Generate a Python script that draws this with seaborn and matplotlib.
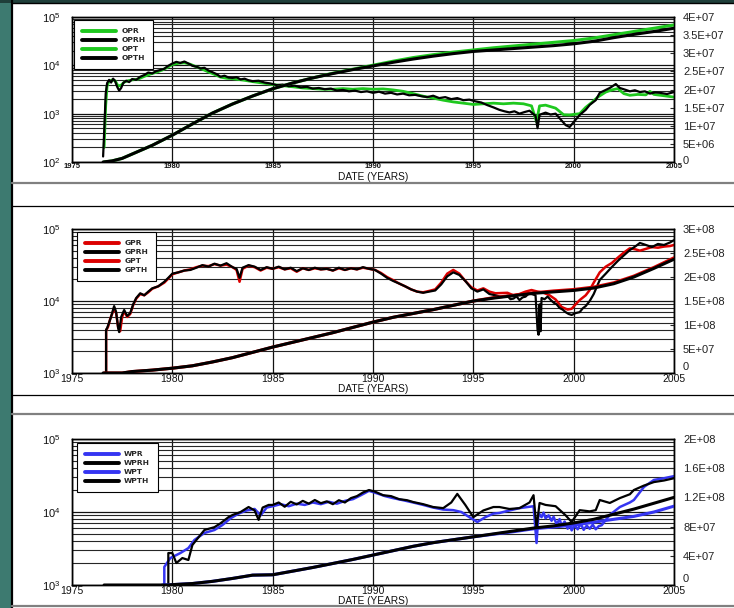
import numpy as np
import pandas as pd
import matplotlib
matplotlib.use("Agg")
import matplotlib.pyplot as plt
import matplotlib.ticker as mticker
from matplotlib.patches import Rectangle
from matplotlib.lines import Line2D
import seaborn as sns

# ---------------- data: (decimal year, value) ----------------
# Oil: rate (left, log) and cumulative (right, linear)
OPR = [(1976.6, 200), (1976.68, 1500), (1976.75, 3800), (1976.85, 4700), (1977.0, 5000),
       (1977.15, 4800), (1977.3, 3700), (1977.45, 3900), (1977.6, 4500), (1977.8, 4800),
       (1978.0, 5000), (1978.3, 5200), (1978.6, 5900), (1978.9, 6600), (1979.2, 7200),
       (1979.5, 8000), (1979.8, 9300), (1980.0, 10400), (1980.3, 11000), (1980.6, 11300),
       (1980.9, 10500), (1981.2, 9300), (1981.5, 8300), (1981.8, 7300), (1982.1, 6500),
       (1982.4, 5700), (1982.7, 5400), (1983.0, 5300), (1983.3, 5100), (1983.6, 4900),
       (1984.0, 4600), (1984.5, 4300), (1985.0, 4000), (1985.5, 3800), (1986.0, 3600),
       (1986.5, 3400), (1987.0, 3300), (1987.5, 3200), (1988.0, 3200), (1988.5, 3300),
       (1989.0, 3200), (1989.5, 3300), (1990.0, 3200), (1990.5, 3250), (1991.0, 3100),
       (1991.5, 2900), (1992.0, 2600), (1992.5, 2300), (1993.0, 2100), (1993.5, 1900),
       (1994.0, 1750), (1994.5, 1650), (1995.0, 1550), (1995.5, 1600), (1996.0, 1650),
       (1996.5, 1600), (1997.0, 1650), (1997.5, 1600), (1997.9, 1450), (1998.15, 680),
       (1998.3, 1450), (1998.6, 1500), (1999.1, 1300), (1999.5, 950), (1999.8, 940),
       (2000.3, 1000), (2000.6, 1350), (2000.9, 1700), (2001.2, 2200), (2001.6, 2800),
       (2001.9, 3100), (2002.2, 3300), (2002.5, 2600), (2002.8, 2400), (2003.2, 2500),
       (2003.6, 2450), (2003.8, 2900), (2004.0, 2500), (2004.5, 2350), (2005.0, 2200)]
OPRH = [(1976.55, 130), (1976.62, 600), (1976.68, 2600), (1976.75, 4300), (1976.85, 5000),
        (1976.95, 4400), (1977.05, 5300), (1977.15, 4700), (1977.25, 3600), (1977.35, 3000),
        (1977.45, 3400), (1977.55, 4300), (1977.7, 4800), (1977.85, 4500), (1978.0, 5200),
        (1978.2, 5000), (1978.4, 5800), (1978.6, 6300), (1978.8, 7100), (1979.0, 6800),
        (1979.2, 7600), (1979.4, 8000), (1979.6, 8500), (1979.8, 9800), (1980.0, 10900),
        (1980.2, 11800), (1980.4, 11200), (1980.6, 12000), (1980.8, 10900), (1981.0, 9800),
        (1981.2, 9400), (1981.4, 8600), (1981.6, 8900), (1981.8, 7800), (1982.0, 7200),
        (1982.2, 6600), (1982.4, 5800), (1982.6, 6100), (1982.8, 5600), (1983.0, 5500),
        (1983.2, 5700), (1983.4, 5100), (1983.6, 5300), (1983.8, 4900), (1984.0, 4700),
        (1984.3, 4800), (1984.6, 4400), (1984.9, 4200), (1985.2, 3900), (1985.5, 4000),
        (1985.8, 3700), (1986.1, 3800), (1986.4, 3500), (1986.7, 3600), (1987.0, 3300),
        (1987.3, 3400), (1987.6, 3200), (1987.9, 3300), (1988.2, 3000), (1988.5, 3100),
        (1988.8, 2900), (1989.1, 3000), (1989.4, 2800), (1989.7, 2900), (1990.0, 2700),
        (1990.3, 2850), (1990.6, 2600), (1990.9, 2700), (1991.2, 2500), (1991.5, 2600),
        (1991.8, 2400), (1992.1, 2450), (1992.4, 2300), (1992.7, 2200), (1993.0, 2350),
        (1993.3, 2100), (1993.6, 2200), (1993.9, 2000), (1994.2, 2100), (1994.5, 1900),
        (1994.8, 1950), (1995.1, 1800), (1995.4, 1700), (1995.7, 1500), (1996.0, 1350),
        (1996.3, 1200), (1996.55, 1120), (1996.8, 1060), (1997.05, 1120), (1997.3, 1000),
        (1997.55, 1080), (1997.8, 1150), (1998.1, 900), (1998.2, 500), (1998.3, 950),
        (1998.6, 1050), (1998.85, 960), (1999.1, 1000), (1999.35, 760), (1999.6, 580),
        (1999.8, 530), (2000.1, 750), (2000.3, 940), (2000.6, 1200), (2000.8, 1520),
        (2001.1, 1900), (2001.3, 2700), (2001.6, 3100), (2001.8, 3400), (2002.1, 4100),
        (2002.3, 3400), (2002.6, 3100), (2002.8, 2900), (2003.05, 3050), (2003.3, 2800),
        (2003.55, 2900), (2003.8, 2600), (2004.05, 2750), (2004.3, 2700), (2004.65, 2550),
        (2005.0, 2800)]
OPT = [(1976.6, 0), (1977.0, 0.3e6), (1977.5, 1.0e6), (1978.0, 2.2e6), (1979.0, 4.6e6),
       (1980.0, 7.4e6), (1981.0, 10.5e6), (1982.0, 13.5e6), (1983.0, 16.0e6), (1984.0, 18.2e6),
       (1985.0, 20.2e6), (1986.0, 21.8e6), (1987.0, 23.2e6), (1988.0, 24.5e6), (1989.0, 25.6e6),
       (1990.0, 26.7e6), (1991.0, 27.8e6), (1992.0, 28.8e6), (1993.0, 29.6e6), (1994.0, 30.3e6),
       (1995.0, 30.9e6), (1996.0, 31.5e6), (1997.0, 32.0e6), (1998.0, 32.5e6), (1999.0, 33.0e6),
       (2000.0, 33.5e6), (2001.0, 34.2e6), (2002.0, 35.1e6), (2003.0, 36.0e6), (2004.0, 36.9e6),
       (2005.0, 37.8e6)]
OPTH = [(1976.55, 0), (1977.0, 0.3e6), (1977.5, 1.0e6), (1978.0, 2.2e6), (1979.0, 4.6e6),
        (1980.0, 7.4e6), (1981.0, 10.5e6), (1982.0, 13.5e6), (1983.0, 16.0e6), (1984.0, 18.2e6),
        (1985.0, 20.2e6), (1986.0, 21.8e6), (1987.0, 23.2e6), (1988.0, 24.4e6), (1989.0, 25.5e6),
        (1990.0, 26.5e6), (1991.0, 27.5e6), (1992.0, 28.4e6), (1993.0, 29.2e6), (1994.0, 29.9e6),
        (1995.0, 30.5e6), (1996.0, 30.9e6), (1997.0, 31.3e6), (1998.0, 31.7e6), (1999.0, 32.1e6),
        (2000.0, 32.6e6), (2001.0, 33.3e6), (2002.0, 34.3e6), (2003.0, 35.2e6), (2004.0, 36.0e6),
        (2005.0, 36.9e6)]

# Gas
GPR = [(1976.68, 0), (1976.7, 3900), (1976.8, 4400), (1976.9, 5600), (1977.0, 6600),
       (1977.1, 8000), (1977.2, 6800), (1977.3, 4300), (1977.4, 3800), (1977.5, 6000),
       (1977.6, 7200), (1977.75, 6000), (1977.9, 6600), (1978.05, 8800), (1978.2, 10800),
       (1978.4, 12500), (1978.6, 12000), (1978.8, 13200), (1979.0, 14800), (1979.3, 16000),
       (1979.6, 18000), (1979.8, 20500), (1980.0, 23500), (1980.3, 25000), (1980.6, 26500),
       (1980.9, 27500), (1981.2, 29500), (1981.5, 31000), (1981.8, 30500), (1982.1, 32500),
       (1982.4, 31000), (1982.7, 32000), (1983.0, 29500), (1983.2, 27000), (1983.35, 18500),
       (1983.5, 28000), (1983.8, 31000), (1984.1, 29500), (1984.4, 26500), (1984.7, 29000),
       (1985.0, 28000), (1985.3, 29500), (1985.6, 27500), (1985.9, 28500), (1986.2, 25500),
       (1986.5, 28500), (1986.8, 27000), (1987.1, 28500), (1987.4, 27500), (1987.7, 28000),
       (1988.0, 26500), (1988.3, 28500), (1988.6, 27000), (1988.9, 28500), (1989.2, 27500),
       (1989.5, 29000), (1989.8, 28000), (1990.1, 27000), (1990.4, 24500), (1990.7, 21500),
       (1991.0, 19500), (1991.3, 17500), (1991.6, 16000), (1991.9, 14500), (1992.2, 13500),
       (1992.5, 13200), (1992.8, 13800), (1993.1, 14500), (1993.4, 18000), (1993.7, 24000),
       (1994.0, 27000), (1994.3, 24000), (1994.6, 19000), (1994.9, 15500), (1995.2, 14000),
       (1995.5, 15000), (1995.8, 13500), (1996.1, 12800), (1996.4, 12900), (1996.7, 13000),
       (1997.0, 12000), (1997.3, 12500), (1997.6, 13500), (1997.9, 14200), (1998.2, 13500),
       (1998.5, 13000), (1998.8, 12000), (1999.1, 10500), (1999.4, 8250), (1999.7, 7600),
       (1999.9, 7800), (2000.1, 9000), (2000.3, 10300), (2000.6, 12000), (2000.8, 14200),
       (2001.0, 18000), (2001.3, 25000), (2001.6, 30000), (2001.9, 33700), (2002.2, 40000),
       (2002.5, 47000), (2002.8, 54000), (2003.1, 52000), (2003.3, 50000), (2003.6, 53000),
       (2003.9, 56000), (2004.2, 55000), (2004.5, 57000), (2004.8, 58000), (2005.0, 60000)]
GPRH = [(1976.68, 0), (1976.7, 4000), (1976.75, 4200), (1976.9, 5500), (1977.0, 6800),
        (1977.1, 8500), (1977.2, 7000), (1977.3, 4200), (1977.35, 3700), (1977.45, 6000),
        (1977.6, 7500), (1977.75, 6200), (1977.9, 6800), (1978.05, 9000), (1978.2, 11000),
        (1978.4, 12800), (1978.6, 12000), (1978.8, 13500), (1979.0, 15000), (1979.3, 16000),
        (1979.6, 18500), (1979.8, 21000), (1980.0, 24000), (1980.3, 25000), (1980.6, 26500),
        (1980.9, 27000), (1981.2, 29000), (1981.5, 31500), (1981.8, 30000), (1982.1, 33000),
        (1982.4, 31000), (1982.7, 33500), (1983.0, 29500), (1983.2, 28000), (1983.35, 21000),
        (1983.5, 29000), (1983.8, 31500), (1984.1, 30000), (1984.4, 27000), (1984.7, 29500),
        (1985.0, 28000), (1985.3, 30000), (1985.6, 27500), (1985.9, 29000), (1986.2, 26000),
        (1986.5, 28500), (1986.8, 27000), (1987.1, 29000), (1987.4, 27500), (1987.7, 28000),
        (1988.0, 26500), (1988.3, 29000), (1988.6, 27000), (1988.9, 28500), (1989.2, 27500),
        (1989.5, 29500), (1989.8, 28000), (1990.1, 27000), (1990.4, 24000), (1990.7, 21000),
        (1991.0, 19000), (1991.3, 17500), (1991.6, 16000), (1991.9, 14500), (1992.2, 13500),
        (1992.5, 13000), (1992.8, 13500), (1993.1, 14000), (1993.4, 17000), (1993.7, 22000),
        (1994.0, 25000), (1994.3, 23000), (1994.6, 19000), (1994.9, 15000), (1995.2, 13500),
        (1995.5, 14500), (1995.8, 12500), (1996.1, 12000), (1996.4, 11400), (1996.7, 11800),
        (1996.85, 10600), (1997.0, 10800), (1997.15, 11600), (1997.3, 10300), (1997.45, 11200),
        (1997.6, 11500), (1997.75, 12600), (1997.9, 12500), (1998.1, 12000), (1998.2, 4000),
        (1998.25, 3400), (1998.3, 9000), (1998.35, 3800), (1998.4, 11000), (1998.55, 10600),
        (1998.7, 11500), (1998.85, 10400), (1999.0, 9500), (1999.15, 9000), (1999.3, 8000),
        (1999.45, 7600), (1999.6, 7000), (1999.75, 6600), (1999.9, 6400), (2000.1, 6800),
        (2000.3, 7000), (2000.45, 7900), (2000.6, 8500), (2000.8, 10000), (2001.0, 12500),
        (2001.3, 19600), (2001.6, 24000), (2001.9, 29600), (2002.2, 36000), (2002.5, 43000),
        (2002.8, 51000), (2003.1, 58000), (2003.3, 64000), (2003.6, 60000), (2003.9, 56000),
        (2004.2, 62000), (2004.5, 60000), (2004.8, 65000), (2005.0, 70000)]
GPT = [(1976.6, 0), (1977.5, 0), (1978.0, 0.3e7), (1979.0, 0.6e7), (1980.0, 1.0e7),
       (1981.0, 1.5e7), (1982.0, 2.3e7), (1983.0, 3.2e7), (1984.0, 4.3e7), (1985.0, 5.4e7),
       (1986.0, 6.4e7), (1987.0, 7.4e7), (1988.0, 8.4e7), (1989.0, 9.5e7), (1990.0, 10.6e7),
       (1991.0, 11.6e7), (1992.0, 12.4e7), (1993.0, 13.2e7), (1994.0, 14.1e7), (1995.0, 15.0e7),
       (1996.0, 15.7e7), (1997.0, 16.2e7), (1998.0, 16.7e7), (1999.0, 17.1e7), (2000.0, 17.4e7),
       (2001.0, 17.9e7), (2002.0, 18.8e7), (2003.0, 20.2e7), (2004.0, 22.0e7), (2005.0, 24.0e7)]
GPTH = [(1976.55, 0), (1977.5, 0), (1978.0, 0.3e7), (1979.0, 0.6e7), (1980.0, 1.0e7),
        (1981.0, 1.5e7), (1982.0, 2.3e7), (1983.0, 3.2e7), (1984.0, 4.3e7), (1985.0, 5.4e7),
        (1986.0, 6.4e7), (1987.0, 7.4e7), (1988.0, 8.4e7), (1989.0, 9.5e7), (1990.0, 10.6e7),
        (1991.0, 11.6e7), (1992.0, 12.4e7), (1993.0, 13.2e7), (1994.0, 14.1e7), (1995.0, 15.0e7),
        (1996.0, 15.6e7), (1997.0, 16.1e7), (1998.0, 16.6e7), (1999.0, 16.9e7), (2000.0, 17.2e7),
        (2001.0, 17.7e7), (2002.0, 18.6e7), (2003.0, 20.0e7), (2004.0, 21.8e7), (2005.0, 23.7e7)]

# Water
WPR = [(1976.6, 0), (1979.45, 0), (1979.6, 1770), (1979.9, 2340), (1980.4, 2740),
       (1980.8, 3200), (1981.1, 4140), (1981.6, 5160), (1982.1, 5670), (1982.5, 6640),
       (1982.9, 8200), (1983.3, 9500), (1983.7, 10500), (1984.1, 11000), (1984.4, 9000),
       (1984.7, 11500), (1985.0, 12000), (1985.4, 12800), (1985.8, 12000), (1986.2, 13000),
       (1986.6, 12500), (1987.0, 13500), (1987.4, 12800), (1987.8, 13800), (1988.2, 13000),
       (1988.6, 14200), (1989.0, 15000), (1989.4, 17000), (1989.8, 19500), (1990.2, 18000),
       (1990.6, 16500), (1991.0, 15500), (1991.5, 14500), (1992.0, 13500), (1992.5, 12500),
       (1993.0, 11500), (1993.5, 10800), (1994.0, 10600), (1994.4, 10000), (1994.8, 8500),
       (1995.2, 7300), (1995.6, 8500), (1996.0, 9500), (1996.3, 9700), (1996.8, 10500),
       (1997.3, 11300), (1997.8, 11800), (1998.0, 12000), (1998.15, 3760), (1998.25, 9700),
       (1998.4, 8500), (1998.5, 9800), (1998.6, 8200), (1998.75, 9000), (1998.9, 7600),
       (1999.0, 8600), (1999.15, 6800), (1999.3, 8000), (1999.4, 6500), (1999.55, 7400),
       (1999.7, 5900), (1999.8, 6800), (1999.9, 5600), (2000.05, 6600), (2000.2, 5800),
       (2000.35, 6900), (2000.5, 5700), (2000.65, 6500), (2000.8, 5900), (2000.95, 6700),
       (2001.1, 5800), (2001.25, 6400), (2001.4, 6600), (2001.6, 7800), (2001.8, 9100),
       (2002.3, 11700), (2002.8, 13500), (2003.0, 14600), (2003.5, 22000), (2004.0, 27500),
       (2004.5, 29000), (2005.0, 31000)]
WPRH = [(1976.6, 0), (1979.75, 0), (1979.8, 2740), (1980.0, 2740), (1980.2, 2000),
        (1980.5, 2340), (1980.8, 2200), (1981.0, 3530), (1981.2, 4140), (1981.6, 5670),
        (1982.1, 6200), (1982.4, 7000), (1982.8, 8500), (1983.0, 9100), (1983.4, 10000),
        (1983.8, 11700), (1984.1, 10500), (1984.3, 7800), (1984.5, 11500), (1984.8, 12500),
        (1985.0, 12500), (1985.3, 13500), (1985.6, 11800), (1985.9, 13800), (1986.2, 12700),
        (1986.5, 14200), (1986.8, 13000), (1987.1, 14600), (1987.4, 13200), (1987.7, 14000),
        (1988.0, 12800), (1988.3, 14500), (1988.6, 13500), (1988.9, 15500), (1989.2, 16500),
        (1989.5, 18500), (1989.8, 20000), (1990.1, 19000), (1990.5, 17000), (1990.9, 16500),
        (1991.3, 15000), (1991.7, 14500), (1992.0, 13700), (1992.5, 12800), (1993.0, 11700),
        (1993.5, 11300), (1993.9, 13500), (1994.2, 17700), (1994.6, 12500), (1995.0, 8500),
        (1995.5, 10500), (1996.0, 11700), (1996.3, 11700), (1996.8, 11000), (1997.3, 11300),
        (1997.8, 13500), (1998.0, 17000), (1998.15, 6000), (1998.3, 13300), (1998.6, 12500),
        (1999.1, 12000), (1999.6, 9000), (1999.9, 7300), (2000.3, 10600), (2000.8, 10200),
        (2001.1, 10600), (2001.3, 14600), (2001.8, 13300), (2002.3, 15500), (2002.8, 17500),
        (2003.0, 20000), (2003.5, 23000), (2004.0, 25700), (2004.5, 27000), (2005.0, 29000)]
WPT = [(1979.5, 0), (1980.0, 0.05e7), (1981.0, 0.2e7), (1982.0, 0.5e7), (1983.0, 0.9e7),
       (1984.0, 1.35e7), (1985.0, 1.4e7), (1986.0, 1.9e7), (1987.0, 2.4e7), (1988.0, 2.95e7),
       (1989.0, 3.5e7), (1990.0, 4.1e7), (1991.0, 4.7e7), (1992.0, 5.3e7), (1993.0, 5.8e7),
       (1994.0, 6.2e7), (1995.0, 6.6e7), (1996.0, 6.95e7), (1997.0, 7.3e7), (1998.0, 7.7e7),
       (1999.0, 7.95e7), (2000.0, 8.2e7), (2001.0, 8.6e7), (2002.0, 9.0e7), (2003.0, 9.4e7),
       (2004.0, 10.0e7), (2005.0, 10.8e7)]
WPTH = [(1976.6, 0), (1979.8, 0), (1980.0, 0.05e7), (1981.0, 0.2e7), (1982.0, 0.5e7),
        (1983.0, 0.9e7), (1984.0, 1.35e7), (1985.0, 1.4e7), (1986.0, 1.9e7), (1987.0, 2.4e7),
        (1988.0, 2.95e7), (1989.0, 3.5e7), (1990.0, 4.1e7), (1991.0, 4.7e7), (1992.0, 5.3e7),
        (1993.0, 5.8e7), (1994.0, 6.2e7), (1995.0, 6.6e7), (1996.0, 7.0e7), (1997.0, 7.4e7),
        (1998.0, 7.8e7), (1999.0, 8.1e7), (2000.0, 8.5e7), (2001.0, 9.0e7), (2002.0, 9.7e7),
        (2003.0, 10.4e7), (2004.0, 11.2e7), (2005.0, 12.0e7)]

YEAR_TICKS = [1975, 1980, 1985, 1990, 1995, 2000, 2005]

# ---------------- styling ----------------
sns.set_style("white")
plt.rcParams["font.family"] = ["Liberation Sans", "DejaVu Sans"]
plt.rcParams["mathtext.fontset"] = "custom"
plt.rcParams["mathtext.rm"] = "Liberation Sans"
plt.rcParams["mathtext.it"] = "Liberation Sans"

GREEN = "#1ec81e"
RED = "#dc0000"
BLUE = "#3535f2"
BLACK = "#000000"
TEAL = "#3d7a70"

W, H = 734, 608
fig = plt.figure(figsize=(W / 100, H / 100), dpi=100)
fig.patch.set_facecolor("white")


def rect(left, top, right, bottom):
    return [left / W, 1 - bottom / H, (right - left) / W, (bottom - top) / H]


def sci_text(v):
    if v == 0:
        return "0"
    e = int(np.floor(np.log10(abs(v)) + 1e-9))
    m = v / 10 ** e
    ms = f"{m:.1f}".rstrip("0").rstrip(".")
    return f"{ms}E+{e:02d}"


def draw_panel(box, rates, cums, ylim, clim, cstep, xfont, legend_box, legend_font,
               label_y, zero_lift):
    ax = fig.add_axes(rect(*box))
    axr = ax.twinx()
    for name, pts, color, lw in rates:
        t, v = zip(*pts)
        sns.lineplot(x=list(t), y=list(v), ax=ax, color=color, lw=lw,
                     estimator=None, sort=False, label=name, legend=False)
    for name, pts, color, lw in cums:
        t, v = zip(*pts)
        sns.lineplot(x=list(t), y=list(v), ax=axr, color=color, lw=lw,
                     estimator=None, sort=False, label=name, legend=False)

    ax.set_yscale("log")
    ax.set_ylim(*ylim)
    ax.set_xlim(1975, 2005)
    axr.set_ylim(*clim)
    ax.set_xticks(YEAR_TICKS)
    ax.set_xticklabels([str(y) for y in YEAR_TICKS], **xfont)
    ax.yaxis.set_major_locator(mticker.LogLocator(base=10))
    ax.yaxis.set_minor_locator(mticker.LogLocator(base=10, subs=np.arange(2, 10)))
    ax.yaxis.set_minor_formatter(mticker.NullFormatter())
    ax.grid(True, which="major", axis="both", color="#111111", lw=0.9)
    ax.grid(True, which="minor", axis="y", color="#262626", lw=0.8)
    ax.tick_params(axis="x", length=0, pad=1.0)
    ax.tick_params(axis="y", which="both", length=0, pad=8.5, labelsize=8,
                   labelcolor="#111111")
    ax.set_ylabel("")
    axr.set_ylabel("")
    ax.set_xlabel("DATE (YEARS)", fontsize=7.3, color="#111111")
    ax.xaxis.set_label_coords(0.5, label_y)
    ax.xaxis.label.set_va("center")

    # right-hand cumulative scale; the zero label sits just above the corner
    axr.yaxis.set_major_locator(mticker.MultipleLocator(cstep))
    axr.yaxis.set_major_formatter(
        mticker.FuncFormatter(lambda v, p: "" if v == 0 else sci_text(v)))
    axr.tick_params(axis="y", direction="in", length=3, width=0.8, pad=6.5,
                    labelsize=8, labelcolor="#222222")
    axr.annotate("0", xy=(1, 0), xycoords="axes fraction", xytext=(9, zero_lift),
                 textcoords="offset pixels", ha="left", va="center", fontsize=8,
                 color="#222222")
    for a in (ax, axr):
        for s in a.spines.values():
            s.set_color("black")
            s.set_linewidth(1.0)

    handles = ax.get_lines()[:len(rates)] + axr.get_lines()[:len(cums)]
    labels = [h.get_label() for h in handles]
    lx, ly = legend_box
    leg = axr.legend(handles, labels, loc="upper left",
                     bbox_to_anchor=(lx / W, 1 - ly / H), bbox_transform=fig.transFigure,
                     borderaxespad=0, frameon=True, fancybox=False, framealpha=1,
                     edgecolor="black", prop=legend_font, handlelength=4.6,
                     handletextpad=0.65, labelspacing=0.38, borderpad=1.05)
    leg.get_frame().set_linewidth(0.8)
    for lh in leg.get_lines():
        lh.set_linewidth(2.8)
    return ax, axr


legend_font = {"family": "DejaVu Sans", "weight": "bold", "size": 5.4}
regular = {"fontsize": 7.5, "color": "#111111"}

draw_panel((72, 17, 674, 162),
           [("OPR", OPR, GREEN, 2.0), ("OPRH", OPRH, BLACK, 1.6)],
           [("OPT", OPT, GREEN, 2.2), ("OPTH", OPTH, BLACK, 2.2)],
           (1e2, 1e5), (0, 4e7), 5e6,
           {"fontsize": 5.5, "fontweight": "bold", "color": "#111111"},
           (74, 20), legend_font, -0.105, 1)

draw_panel((72, 229, 674, 373),
           [("GPR", GPR, RED, 1.8), ("GPRH", GPRH, BLACK, 1.6)],
           [("GPT", GPT, RED, 2.2), ("GPTH", GPTH, BLACK, 2.2)],
           (1e3, 1e5), (0, 3e8), 5e7, regular,
           (77, 232), legend_font, -0.112, 6)

draw_panel((72, 439, 674, 585),
           [("WPR", WPR, BLUE, 1.8), ("WPRH", WPRH, BLACK, 1.6)],
           [("WPT", WPT, BLUE, 2.2), ("WPTH", WPTH, BLACK, 2.2)],
           (1e3, 1e5), (0, 2e8), 4e7, regular,
           (77, 443), legend_font, -0.108, 6)

# ---------------- page frame ----------------
fig.patches.append(Rectangle((0, 0), 11 / W, 1, transform=fig.transFigure,
                             facecolor=TEAL, edgecolor="none", zorder=-5))
fig.patches.append(Rectangle((0, 1 - 2.5 / H), 1, 2.5 / H, transform=fig.transFigure,
                             facecolor="#1f3f3a", edgecolor="none", zorder=-5))


def hline(y, color, lw):
    fig.add_artist(Line2D([12 / W, 1], [1 - y / H] * 2, transform=fig.transFigure,
                          color=color, lw=lw))


fig.add_artist(Line2D([12 / W] * 2, [0, 1], transform=fig.transFigure, color="black", lw=1.6))
hline(3, "black", 1.0)
hline(183, "#808080", 1.6)
hline(206, "black", 0.9)
hline(395, "black", 0.9)
hline(414, "#808080", 1.6)
hline(605.5, "#808080", 1.6)

fig.savefig("out.png", dpi=100, facecolor="white")
